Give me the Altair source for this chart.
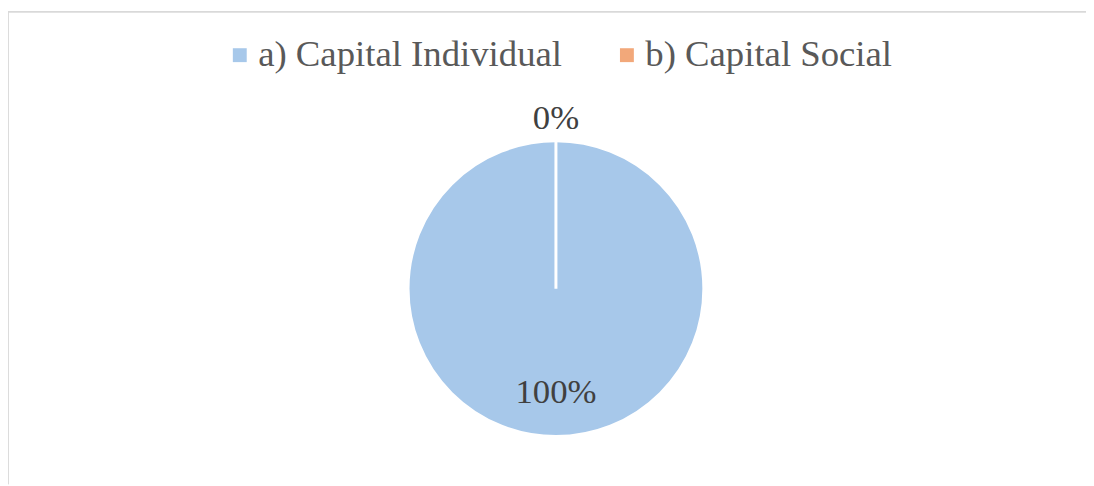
import altair as alt
import pandas as pd

categories = ["a) Capital Individual", "b) Capital Social"]
values = [100, 0]
labels = ["100%", "0%"]
colors = ["#a7c8ea", "#f2a87a"]

df = pd.DataFrame({"cat": categories, "value": values, "label": labels, "order": [0, 1]})

W, H = 1086, 476
CX, CY = 552, 279
R = 149
FONT = "Liberation Serif"

theta_scale = alt.Scale(domain=[0, 100])

base = alt.Chart(df).transform_window(
    cum="sum(value)", sort=[alt.SortField("order")], frame=[None, 0]
).transform_calculate(mid="datum.cum - datum.value / 2")

arc = alt.Chart(df).mark_arc(stroke="white", strokeWidth=3, radius=R).encode(
    theta=alt.Theta("value:Q", stack=True, scale=theta_scale),
    color=alt.Color(
        "cat:N",
        scale=alt.Scale(domain=categories, range=colors),
        sort=categories,
        legend=alt.Legend(
            title=None,
            orient="none",
            legendX=215,
            legendY=25,
            direction="horizontal",
            symbolType="square",
            symbolSize=196,
            symbolStrokeWidth=0,
            labelFont=FONT,
            labelFontSize=37,
            labelColor="#595959",
            labelLimit=0,
            columnPadding=46,
            symbolOffset=0,
            labelOffset=0,
        ),
    ),
    order=alt.Order("order:Q"),
    x=alt.value(CX),
    y=alt.value(CY),
)

def text_layer(cat, r):
    return base.transform_filter(alt.datum.cat == cat).mark_text(
        font=FONT, fontSize=35, color="#404040", align="center", baseline="middle", radius=r
    ).encode(
        theta=alt.Theta("mid:Q", scale=theta_scale),
        text="label:N",
        x=alt.value(CX),
        y=alt.value(CY),
    )

frame_top = alt.Chart(df).mark_rule(color="#d9d9d9", strokeWidth=1.5).encode(
    x=alt.value(0), x2=alt.value(W), y=alt.value(0)
)
frame_left = alt.Chart(df).mark_rule(color="#d9d9d9", strokeWidth=1.5).encode(
    x=alt.value(0), y=alt.value(0), y2=alt.value(H)
)

chart = alt.layer(
    frame_top,
    frame_left,
    arc,
    text_layer(categories[0], 104),
    text_layer(categories[1], 172),
).resolve_scale(theta="shared").properties(
    width=W,
    height=H,
    padding={"left": 0, "top": 2, "right": 0, "bottom": 0},
    autosize=alt.AutoSizeParams(type="none"),
).configure_view(stroke=None)

chart.save("out.html", embed_options={"renderer": "svg", "actions": False})
